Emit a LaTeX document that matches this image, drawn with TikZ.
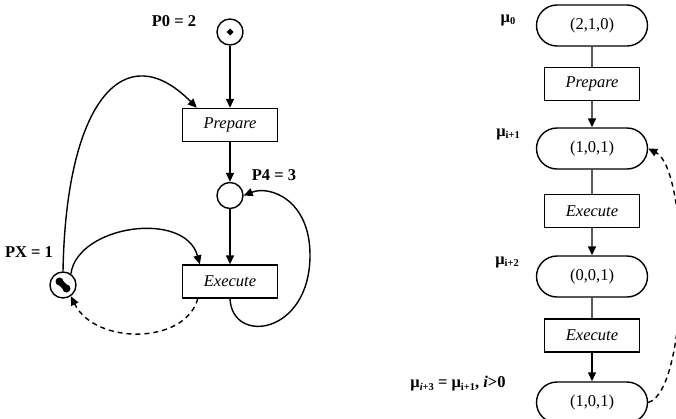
\documentclass[tikz,border=0pt]{standalone}
\usepackage{fontspec}
\setmainfont{Liberation Serif}
\usetikzlibrary{arrows.meta,shapes.misc}
\newcommand\lsub[1]{\raisebox{-0.35ex}{\fontsize{10.5}{12}\selectfont #1}}
\begin{document}
\begin{tikzpicture}[x=1pt,y=-1pt,
  place/.style={circle, draw, line width=1.4pt, minimum size=26pt, inner sep=0pt},
  trans/.style={rectangle, draw, line width=1.4pt, minimum width=95pt, minimum height=33pt, inner sep=0pt, font=\fontsize{16.5}{19}\selectfont\itshape},
  marking/.style={rounded rectangle, draw, line width=1.4pt, minimum width=111pt, minimum height=41pt, inner sep=0pt, font=\fontsize{16.5}{19}\selectfont},
  lbl/.style={font=\fontsize{16.5}{19}\selectfont\bfseries, inner sep=0pt},
  arc/.style={line width=1.4pt, -{Triangle[length=9pt,width=8pt]}},
  link/.style={line width=1.4pt},
  dsh/.style={dash pattern=on 5pt off 4pt}]
\useasboundingbox (0,0) rectangle (676,418);

% left net
\node[place] (p0) at (230,32) {};
\fill (p0.center) ++(-3.5,0) -- ++(3.5,-3.5) -- ++(3.5,3.5) -- ++(-3.5,3.5) -- cycle;
\node[trans] (prep) at (230,125) {Prepare};
\node[place] (p4) at (230,195.5) {};
\node[trans] (exe) at (230,281.5) {Execute};
\node[place] (px) at (63,285) {};
\fill (59.5,281.5) circle (4pt);
\fill (66.5,288.5) circle (4pt);
\draw[line width=6pt] (59.5,281.5) -- (66.5,288.5);

\node[lbl] (l0) at (174,21) {P0 = 2};
\node[lbl] (l4) at (274,175) {P4 = 3};
\node[lbl] (lx) at (29,252) {PX = 1};

\draw[arc] (p0) -- (prep);
\draw[arc] (prep) -- (p4);
\draw[arc] (p4) -- (exe);
\draw[arc] (px.north) .. controls (66,100) and (125,35) .. ([xshift=15pt]prep.north west);
\draw[arc] (px.55) .. controls (78,225) and (185,210) .. ([xshift=18pt]exe.north west);
\draw[arc,dsh] ([xshift=16pt]exe.south west) .. controls (185,345) and (95,345) .. (px.-55);
\draw[arc] (exe.south) .. controls (232,345) and (310,335) .. (310,255) .. controls (310,200) and (270,185) .. (p4.east);

% right: reachability graph
\node[marking] (m0) at (592,25.5) {(2,1,0)};
\node[trans] (rprep) at (592,84) {Prepare};
\node[marking] (m1) at (592,148.5) {(1,0,1)};
\node[trans] (rexe1) at (592,211) {Execute};
\node[marking] (m2) at (592,276.5) {(0,0,1)};
\node[trans] (rexe2) at (592,335.5) {Execute};
\node[marking] (m3) at (592,402.5) {(1,0,1)};

\node[lbl] (u0) at (508,20) {μ\lsub{0}};
\node[lbl] (u1) at (508,134) {μ\lsub{i+1}};
\node[lbl] (u2) at (507,262) {μ\lsub{i+2}};
\node[lbl] (u3) at (458,384) {μ\lsub{\textit{i}+3} = μ\lsub{i+1}, \textit{i}>0};

\draw[link] (m0) -- (rprep);
\draw[arc] (rprep) -- (m1);
\draw[link] (m1) -- (rexe1);
\draw[arc] (rexe1) -- (m2);
\draw[link] (m2) -- (rexe2);
\draw[arc] (rexe2) -- (m3);
\draw[arc,dsh] (m3.east) .. controls (690,390) and (690,170) .. (m1.east);
\end{tikzpicture}
\end{document}
